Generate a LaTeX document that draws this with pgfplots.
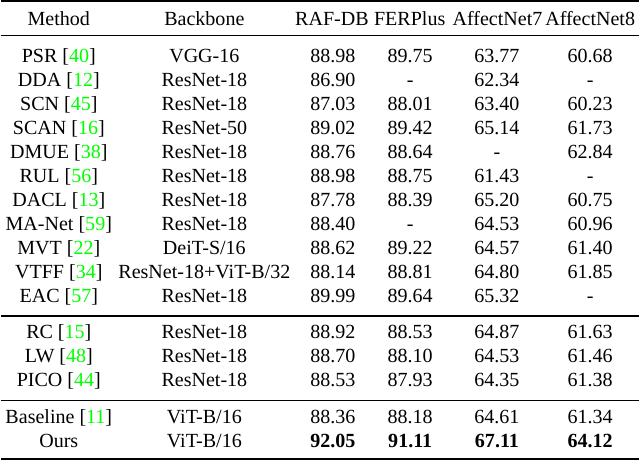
\documentclass[border=0pt]{standalone}
\usepackage{fontspec}
\setmainfont{Liberation Serif}
\usepackage{xcolor}
\usepackage{pgfplots}
\usepackage{pgfplotstable}
\pgfplotsset{compat=1.18}
\definecolor{citegreen}{rgb}{0,1,0}
\newcommand{\ct}[1]{[\textcolor{citegreen}{#1}]}
\newcommand{\tabfont}{\fontsize{20.1bp}{24bp}\selectfont}

\pgfplotstableread[col sep=comma, row sep=\\]{
y,method,backbone,raf,fer,aa,ab\\
63,PSR \ct{40},VGG-16,88.98,89.75,63.77,60.68\\
87,DDA \ct{12},ResNet-18,86.90,-,62.34,-\\
111,SCN \ct{45},ResNet-18,87.03,88.01,63.40,60.23\\
135,SCAN \ct{16},ResNet-50,89.02,89.42,65.14,61.73\\
159,DMUE \ct{38},ResNet-18,88.76,88.64,-,62.84\\
183,RUL \ct{56},ResNet-18,88.98,88.75,61.43,-\\
207,DACL \ct{13},ResNet-18,87.78,88.39,65.20,60.75\\
231,MA-Net \ct{59},ResNet-18,88.40,-,64.53,60.96\\
255,MVT \ct{22},DeiT-S/16,88.62,89.22,64.57,61.40\\
279,VTFF \ct{34},ResNet-18+ViT-B/32,88.14,88.81,64.80,61.85\\
303,EAC \ct{57},ResNet-18,89.99,89.64,65.32,-\\
340,RC \ct{15},ResNet-18,88.92,88.53,64.87,61.63\\
364,LW \ct{48},ResNet-18,88.70,88.10,64.53,61.46\\
388,PICO \ct{44},ResNet-18,88.53,87.93,64.35,61.38\\
425,Baseline \ct{11},ViT-B/16,88.36,88.18,64.61,61.34\\
449,Ours,ViT-B/16,\textbf{92.05},\textbf{91.11},\textbf{67.11},\textbf{64.12}\\
}\tbl

\begin{document}
\begin{tikzpicture}
\begin{axis}[
  scale only axis, width=640bp, height=462bp,
  xmin=0, xmax=640, ymin=0, ymax=462, y dir=reverse,
  hide axis, clip=false,
  point meta=explicit symbolic,
  every node near coord/.append style={anchor=base, inner sep=0pt, outer sep=0pt, font=\tabfont, text=black},
]
\path (rel axis cs:0,0) rectangle (rel axis cs:1,1);
% rules
\addplot[black, line width=2bp] coordinates {(0,1) (640,1)};
\addplot[black, line width=1.3bp] coordinates {(0,35.5) (640,35.5)};
\addplot[black, line width=1.3bp] coordinates {(0,317) (640,317)};
\addplot[black, line width=1.3bp] coordinates {(0,402) (640,402)};
\addplot[black, line width=2bp] coordinates {(0,460.5) (640,460.5)};
% header
\addplot[only marks, mark=none, nodes near coords] coordinates {
  (58,26) [Method] (204,26) [Backbone] (332,26) [RAF-DB]
  (410,26) [FERPlus] (498,26) [AffectNet7] (591,26) [AffectNet8]
};
% body
\addplot[only marks, mark=none, nodes near coords] table[x expr=58, y=y, meta=method] {\tbl};
\addplot[only marks, mark=none, nodes near coords] table[x expr=204, y=y, meta=backbone] {\tbl};
\addplot[only marks, mark=none, nodes near coords] table[x expr=333, y=y, meta=raf] {\tbl};
\addplot[only marks, mark=none, nodes near coords] table[x expr=410.5, y=y, meta=fer] {\tbl};
\addplot[only marks, mark=none, nodes near coords] table[x expr=497.5, y=y, meta=aa] {\tbl};
\addplot[only marks, mark=none, nodes near coords] table[x expr=591, y=y, meta=ab] {\tbl};
\end{axis}
\end{tikzpicture}
\end{document}
